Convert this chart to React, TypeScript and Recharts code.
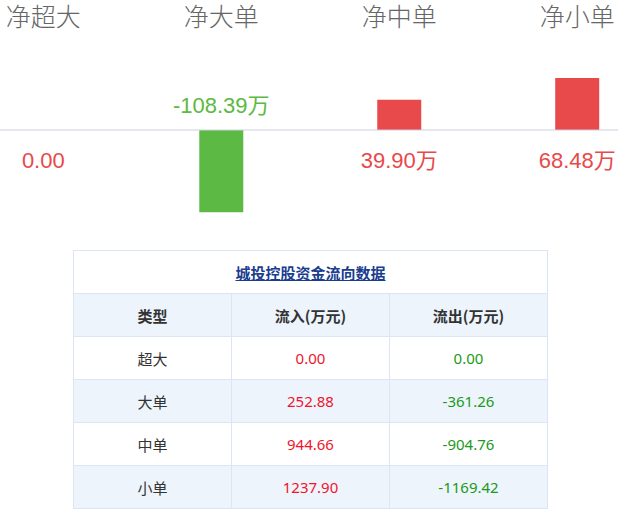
import React from "react";
import { ComposedChart, Bar, Line, XAxis, YAxis, ReferenceLine, LabelList, Cell } from "recharts";

const categories = ["净超大", "净大单", "净中单", "净小单"];
const netValues = [0, -108.39, 39.9, 68.48];
const netLabels = ["0.00", "-108.39万", "39.90万", "68.48万"];
const baseline = [0, 0, 0, 0];

const tableTitle = "城投控股资金流向数据";
const tableHeaders = ["类型", "流入(万元)", "流出(万元)"];
const rowTypes = ["超大", "大单", "中单", "小单"];
const inflows = ["0.00", "252.88", "944.66", "1237.90"];
const outflows = ["0.00", "-361.26", "-904.76", "-1169.42"];

const RED = "#e8494a";
const GREEN = "#5cb943";

const data = categories.map((name, i) => ({
  name,
  value: netValues[i],
  base: baseline[i],
  label: netLabels[i],
}));

const CategoryTick = (props: any) => {
  const { x, payload } = props;
  return (
    <text
      x={x}
      y={26}
      textAnchor="middle"
      fill="#666666"
      fontSize={25}
      fontFamily="'Noto Sans CJK SC', sans-serif"
      fontWeight={300}
    >
      {payload.value}
    </text>
  );
};

const ValueLabel = (props: any) => {
  const { x, y, value } = props;
  const text = String(value);
  const negative = text.startsWith("-");
  const by = negative ? y - 17 : y + 38;
  return (
    <text
      x={x}
      y={by}
      textAnchor="middle"
      fill={negative ? GREEN : RED}
      fontSize={22}
      fontFamily="'Liberation Sans', Arial, 'Noto Sans CJK SC', sans-serif"
    >
      {text}
    </text>
  );
};

const ZeroLine = (props: any) => {
  const y = props.y1 ?? props.y;
  return <line x1={0} x2={618} y1={y} y2={y} stroke="#ccd0de" strokeWidth={1} />;
};

const cellBorder = "1px solid #dbe5f6";
const numStyle = {
  border: cellBorder,
  textAlign: "center" as const,
  padding: 0,
  fontFamily: "'Noto Sans', sans-serif",
  fontSize: 15,
};

export default function App() {
  return (
    <div style={{ position: "absolute", left: 0, top: 0, width: 618, height: 514, background: "#fff" }}>
      <ComposedChart
        width={618}
        height={240}
        data={data}
        margin={{ top: 0, left: 43.3, right: 40.8, bottom: 19 }}
      >
        <XAxis
          dataKey="name"
          orientation="top"
          height={54.2}
          scale="point"
          padding={{ left: 0, right: 0 }}
          axisLine={false}
          tickLine={false}
          tick={<CategoryTick />}
          interval={0}
        />
        <YAxis hide domain={[-120, 100]} allowDataOverflow />
        <ReferenceLine y={0} shape={<ZeroLine />} ifOverflow="visible" />
        <Bar dataKey="value" barSize={44} isAnimationActive={false}>
          {data.map((d, i) => (
            <Cell key={i} fill={d.value >= 0 ? RED : GREEN} />
          ))}
        </Bar>
        <Line
          dataKey="base"
          stroke="none"
          dot={false}
          activeDot={false}
          isAnimationActive={false}
        >
          <LabelList dataKey="label" content={<ValueLabel />} />
        </Line>
      </ComposedChart>
      <table
        style={{
          position: "absolute",
          left: 73,
          top: 250,
          width: 475,
          borderCollapse: "collapse",
          fontFamily: "'Noto Sans CJK SC', sans-serif",
          fontSize: 15,
          tableLayout: "fixed",
        }}
      >
        <tbody>
          <tr style={{ height: 43 }}>
            <td colSpan={3} style={{ border: cellBorder, textAlign: "center", padding: 0 }}>
              <a
                href="#"
                style={{ color: "#1a3d8f", fontWeight: 700, textDecoration: "underline" }}
              >
                {tableTitle}
              </a>
            </td>
          </tr>
          <tr style={{ height: 43, background: "#edf4fc" }}>
            {tableHeaders.map((h, i) => (
              <td
                key={i}
                style={{ border: cellBorder, textAlign: "center", fontWeight: 700, color: "#333", padding: 0 }}
              >
                {h}
              </td>
            ))}
          </tr>
          {rowTypes.map((t, i) => (
            <tr key={i} style={{ height: 43, background: i % 2 === 1 ? "#edf4fc" : "#ffffff" }}>
              <td style={{ border: cellBorder, textAlign: "center", color: "#333", padding: 0 }}>{t}</td>
              <td style={{ ...numStyle, color: "#f0142d" }}>{inflows[i]}</td>
              <td style={{ ...numStyle, color: "#1a9a1a" }}>{outflows[i]}</td>
            </tr>
          ))}
        </tbody>
      </table>
    </div>
  );
}
